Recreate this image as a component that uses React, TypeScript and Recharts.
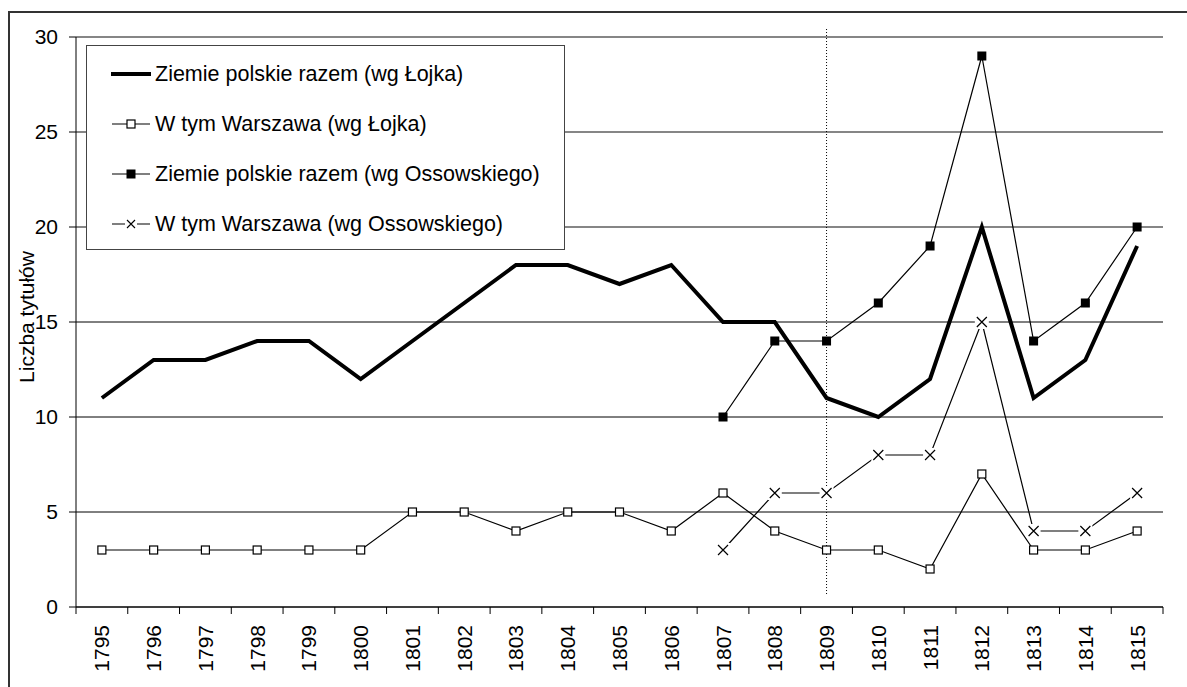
import React from "react";
import { LineChart, Line, XAxis, YAxis, CartesianGrid, ReferenceLine } from "recharts";

const YEARS = [
  "1795", "1796", "1797", "1798", "1799", "1800", "1801", "1802", "1803", "1804", "1805",
  "1806", "1807", "1808", "1809", "1810", "1811", "1812", "1813", "1814", "1815",
];
const LOJEK_TOTAL = [11, 13, 13, 14, 14, 12, 14, 16, 18, 18, 17, 18, 15, 15, 11, 10, 12, 20, 11, 13, 19];
const LOJEK_WARSAW = [3, 3, 3, 3, 3, 3, 5, 5, 4, 5, 5, 4, 6, 4, 3, 3, 2, 7, 3, 3, 4];
const OSS_TOTAL = [null, null, null, null, null, null, null, null, null, null, null, null, 10, 14, 14, 16, 19, 29, 14, 16, 20];
const OSS_WARSAW = [null, null, null, null, null, null, null, null, null, null, null, null, 3, 6, 6, 8, 8, 15, 4, 4, 6];
const Y_TICKS = [0, 5, 10, 15, 20, 25, 30];
const LIGHT_GRID = [20, 25, 30];
const DIVIDER_YEAR = "1809";

const NAMES = {
  lt: "Ziemie polskie razem (wg Łojka)",
  lw: "W tym Warszawa (wg Łojka)",
  ot: "Ziemie polskie razem (wg Ossowskiego)",
  ow: "W tym Warszawa (wg Ossowskiego)",
};

const data = YEARS.map((year, i) => ({
  year,
  lt: LOJEK_TOTAL[i],
  lw: LOJEK_WARSAW[i],
  ot: OSS_TOTAL[i],
  ow: OSS_WARSAW[i],
}));

const FONT = "'Liberation Sans', Arial, sans-serif";

const OpenSquare = (p: any) => {
  if (p.cy == null || p.value == null) return <g key={p.key} />;
  return <rect key={p.key} x={p.cx - 4} y={p.cy - 4} width={8} height={8} fill="#fff" stroke="#000" strokeWidth={1.2} />;
};
const FilledSquare = (p: any) => {
  if (p.cy == null || p.value == null) return <g key={p.key} />;
  return <rect key={p.key} x={p.cx - 4.5} y={p.cy - 4.5} width={9} height={9} fill="#000" />;
};
const Cross = (p: any) => {
  if (p.cy == null || p.value == null) return <g key={p.key} />;
  const { cx, cy } = p;
  return (
    <g key={p.key}>
      <rect x={cx - 7} y={cy - 7} width={14} height={14} fill="#fff" />
      <path d={`M${cx - 5},${cy - 5}L${cx + 5},${cy + 5}M${cx - 5},${cy + 5}L${cx + 5},${cy - 5}`} stroke="#000" strokeWidth={1.2} />
    </g>
  );
};

// Excel-style: tick marks on band edges, year labels read bottom-to-top below them
const YearTick = (p: any) => {
  const { x, y, payload, width, index } = p;
  const half = payload && payload.offset ? payload.offset : width / YEARS.length / 2;
  const ty = y + 18;
  return (
    <g>
      <line x1={x - half} y1={y} x2={x - half} y2={y + 7} stroke="#000" />
      {index === YEARS.length - 1 && <line x1={x + half} y1={y} x2={x + half} y2={y + 7} stroke="#000" />}
      <text x={x} y={ty} transform={`rotate(-90 ${x} ${ty})`} textAnchor="end" dominantBaseline="central"
        fontSize={21} fontFamily={FONT} fill="#000">
        {payload.value}
      </text>
    </g>
  );
};

const legendIcon = (kind: string) => (
  <svg width={40} height={14} style={{ display: "block" }}>
    {kind === "lt" ? (
      <line x1={0} y1={7} x2={40} y2={7} stroke="#000" strokeWidth={4} />
    ) : (
      <line x1={1} y1={7} x2={39} y2={7} stroke="#000" strokeWidth={1.2} />
    )}
    {kind === "lw" && <rect x={16} y={3} width={8} height={8} fill="#fff" stroke="#000" strokeWidth={1.2} />}
    {kind === "ot" && <rect x={15.5} y={2.5} width={9} height={9} fill="#000" />}
    {kind === "ow" && (
      <g>
        <rect x={14} y={1} width={12} height={12} fill="#fff" />
        <path d="M16,3L24,11M16,11L24,3" stroke="#000" strokeWidth={1.1} />
      </g>
    )}
  </svg>
);

export default function App() {
  return (
    <div style={{ position: "absolute", left: 0, top: 0, width: 1187, height: 687, background: "#fff", overflow: "hidden", fontFamily: FONT }}>
      <div style={{ position: "absolute", left: 8, top: 11, width: 1300, height: 800, borderLeft: "2px solid #333", borderTop: "2px solid #333" }} />
      <div style={{ position: "absolute", left: 0, top: 0 }}>
        <LineChart width={1187} height={687} data={data} margin={{ top: 37, right: 24, bottom: 0, left: 0 }}>
          <CartesianGrid horizontal vertical={false} stroke="#000" strokeWidth={1} />
          <XAxis dataKey="year" type="category" scale="band" interval={0} tickLine={false} tickSize={0} tickMargin={0}
            axisLine={{ stroke: "#000" }} height={80} tick={<YearTick />} />
          <YAxis domain={[0, 30]} ticks={Y_TICKS} width={76} tickSize={7} tickMargin={11} interval={0}
            axisLine={{ stroke: "#000" }} tickLine={{ stroke: "#000" }}
            tick={{ fontSize: 21, fill: "#000", fontFamily: FONT }} />
          <YAxis yAxisId="r" orientation="right" width={0} tick={false} tickLine={false} axisLine={{ stroke: "#999", strokeWidth: 2 }} />
          {LIGHT_GRID.map((v) => (
            <ReferenceLine key={v} y={v} stroke="#888" strokeWidth={1.5} />
          ))}
          <ReferenceLine ifOverflow="visible" stroke="#000" strokeDasharray="1 2" strokeWidth={1}
            segment={[{ x: DIVIDER_YEAR, y: 30.42 }, { x: DIVIDER_YEAR, y: 0.58 }]} />
          <Line dataKey="lw" name={NAMES.lw} stroke="#000" strokeWidth={1.2} dot={OpenSquare} isAnimationActive={false} />
          <Line dataKey="ow" name={NAMES.ow} stroke="#000" strokeWidth={1.2} dot={Cross} isAnimationActive={false} />
          <Line dataKey="lt" name={NAMES.lt} stroke="#000" strokeWidth={4} dot={false} strokeLinejoin="miter" isAnimationActive={false} />
          <Line dataKey="ot" name={NAMES.ot} stroke="#000" strokeWidth={1.2} dot={FilledSquare} isAnimationActive={false} />
        </LineChart>
      </div>
      <svg style={{ position: "absolute", left: 0, top: 0 }} width={60} height={687}>
        <text x={26} y={317} transform="rotate(-90 26 317)" textAnchor="middle" dominantBaseline="central" fontSize={21} fontFamily={FONT} fill="#000">
          Liczba tytułów
        </text>
      </svg>
      <div style={{ position: "absolute", left: 86, top: 45, width: 477, height: 203, border: "1px solid #444", background: "#fff" }}>
        {(["lt", "lw", "ot", "ow"] as const).map((k, i) => (
          <div key={k} style={{ position: "absolute", left: 24, top: 28 + i * 50 - 13, height: 26, display: "flex", alignItems: "center", gap: 4 }}>
            {legendIcon(k)}
            <span style={{ fontSize: 21.5, color: "#000", whiteSpace: "nowrap" }}>{NAMES[k]}</span>
          </div>
        ))}
      </div>
    </div>
  );
}
